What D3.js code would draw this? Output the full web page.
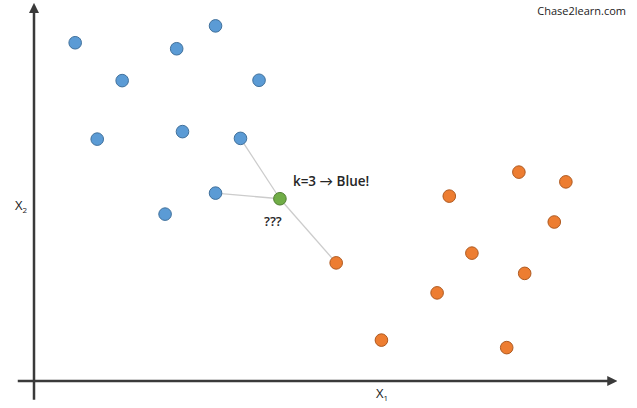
<!DOCTYPE html>
<html lang="en">
<head>
    <meta charset="UTF-8">
    <title>KNN k=3</title>
    <script src="https://d3js.org/d3.v7.min.js"></script>
    <style>
body {
    margin: 0;
    background: #fff;
    font-family: "Open Sans", Lato, sans-serif;
}
svg {
    display: block;
}
    </style>
</head>
<body>
    <svg id="chart" width="637" height="408"></svg>

    <script>
const width = 637;
const height = 408;

// feature values (x1, x2)
const blueX1 = [0.71, 3.13, 2.46, 1.52, 3.88, 1.09, 2.56, 3.56, 3.13, 2.26];
const blueX2 = [9.02, 9.47, 8.86, 8.01, 8.02, 6.45, 6.65, 6.47, 5.01, 4.45];
const orangeX1 = [5.21, 8.36, 9.17, 7.16, 8.97, 7.55, 8.46, 6.95, 5.99, 8.15];
const orangeX2 = [3.15, 5.57, 5.31, 4.93, 4.24, 3.41, 2.87, 2.35, 1.09, 0.89];
const newPoint = { x1: 4.24, x2: 4.86 };
// nearest neighbours: [group, index]
const neighbours = [["blue", 7], ["blue", 8], ["orange", 0]];

const xScale = d3.scaleLinear().domain([0, 10]).range([34, 614]);
const yScale = d3.scaleLinear().domain([0, 10]).range([381, 6]);

const svg = d3.select("#chart");

const blue = blueX1.map((v, i) => ({ x1: v, x2: blueX2[i] }));
const orange = orangeX1.map((v, i) => ({ x1: v, x2: orangeX2[i] }));
const groups = { blue: blue, orange: orange };

const defs = svg.append("defs");
defs.append("marker")
    .attr("id", "arrow")
    .attr("viewBox", "0 0 10 10")
    .attr("refX", 5).attr("refY", 5)
    .attr("markerWidth", 4).attr("markerHeight", 4)
    .attr("orient", "auto")
    .append("path")
    .attr("d", "M0,0 L10,5 L0,10 z")
    .attr("fill", "#3a3a3a");

// axes drawn as plain arrows
svg.append("line")
    .attr("x1", xScale(0)).attr("y1", yScale(-0.5))
    .attr("x2", xScale(0)).attr("y2", yScale(9.95))
    .attr("stroke", "#3a3a3a").attr("stroke-width", 2.5)
    .attr("marker-end", "url(#arrow)");

svg.append("line")
    .attr("x1", xScale(-0.28)).attr("y1", yScale(0))
    .attr("x2", xScale(9.97)).attr("y2", yScale(0))
    .attr("stroke", "#3a3a3a").attr("stroke-width", 2.5)
    .attr("marker-end", "url(#arrow)");

// axis labels
const x2Label = svg.append("text")
    .attr("x", 15).attr("y", 210)
    .attr("font-size", 13).attr("fill", "#222")
    .text("X");
x2Label.append("tspan").attr("font-size", 8).attr("dy", 3).text("2");

const x1Label = svg.append("text")
    .attr("x", 376).attr("y", 398)
    .attr("font-size", 13).attr("fill", "#222")
    .text("X");
x1Label.append("tspan").attr("font-size", 8).attr("dy", 3).text("1");

// distance lines to the three neighbours
svg.selectAll(".nn")
    .data(neighbours)
    .join("line")
    .attr("class", "nn")
    .attr("x1", xScale(newPoint.x1))
    .attr("y1", yScale(newPoint.x2))
    .attr("x2", d => xScale(groups[d[0]][d[1]].x1))
    .attr("y2", d => yScale(groups[d[0]][d[1]].x2))
    .attr("stroke", "#cccccc")
    .attr("stroke-width", 1.3);

function drawPoints(data, fill, stroke) {
    svg.append("g")
        .selectAll("circle")
        .data(data)
        .join("circle")
        .attr("cx", d => xScale(d.x1))
        .attr("cy", d => yScale(d.x2))
        .attr("r", 6.3)
        .attr("fill", fill)
        .attr("stroke", stroke)
        .attr("stroke-width", 1);
}

drawPoints(blue, "#5b9bd5", "#41719c");
drawPoints(orange, "#ed7d31", "#ae5a21");
drawPoints([newPoint], "#70ad47", "#507e32");

svg.append("text")
    .attr("x", xScale(newPoint.x1) + 13)
    .attr("y", yScale(newPoint.x2) - 13)
    .attr("font-size", 13.5).attr("font-weight", 600).attr("fill", "#262626")
    .text("k=3 \u2192 Blue!");

svg.append("text")
    .attr("x", xScale(newPoint.x1) - 7)
    .attr("y", yScale(newPoint.x2) + 27)
    .attr("text-anchor", "middle")
    .attr("font-size", 13).attr("font-weight", 600).attr("fill", "#262626")
    .text("???");

svg.append("text")
    .attr("x", 626).attr("y", 15)
    .attr("text-anchor", "end")
    .attr("font-size", 11).attr("fill", "#222")
    .text("Chase2learn.com");
    </script>
</body>
</html>
